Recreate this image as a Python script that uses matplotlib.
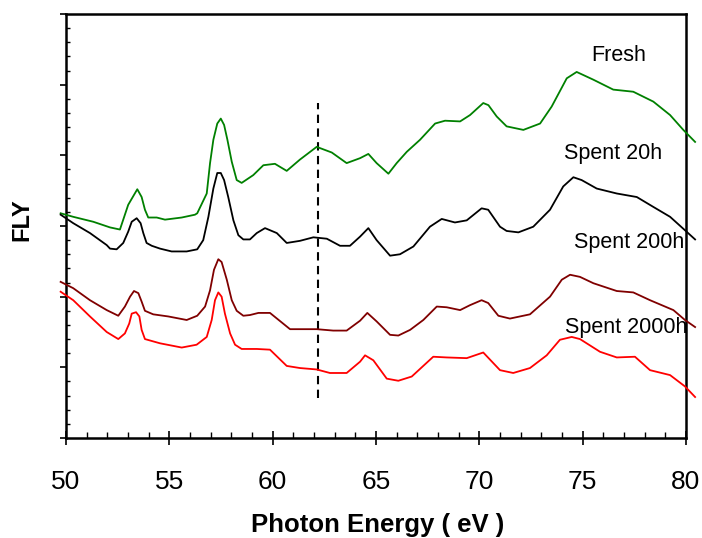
import matplotlib
matplotlib.use("Agg")
import matplotlib.pyplot as plt
from matplotlib.ticker import MultipleLocator

plt.rcParams['font.family'] = ['Liberation Sans', 'DejaVu Sans']

# ---- data (photon energy in eV, FLY intensity in arbitrary units) ----
fresh_x = [49.74, 50.35, 51.32, 52.13, 52.61, 53.01, 53.23, 53.45, 53.66, 53.82, 53.98, 54.39,
           54.79, 55.60, 56.24, 56.35, 56.81, 56.97, 57.13, 57.32, 57.49, 57.65, 57.81, 58.02,
           58.26, 58.50, 59.06, 59.55, 60.11, 60.68, 61.32, 62.13, 62.86, 63.58,
           64.23, 64.63, 65.03, 65.60, 66.00, 66.49, 67.13, 67.86, 68.34, 69.07, 69.55, 70.19,
           70.44, 70.84, 71.32, 72.13, 72.94, 73.50, 74.23, 74.71, 75.52, 76.48, 77.45, 78.42,
           79.23, 79.87, 80.44]
fresh_y = [3.18, 3.13, 3.06, 2.98, 2.95, 3.30, 3.41, 3.52, 3.41, 3.23, 3.12, 3.12,
           3.09, 3.12, 3.16, 3.18, 3.46, 3.89, 4.22, 4.45, 4.52, 4.43, 4.22, 3.91,
           3.65, 3.61, 3.72, 3.86, 3.88, 3.78, 3.94, 4.12, 4.04, 3.89,
           3.96, 4.02, 3.89, 3.74, 3.89, 4.05, 4.22, 4.45, 4.49, 4.48, 4.57, 4.74,
           4.71, 4.55, 4.41, 4.36, 4.45, 4.69, 5.09, 5.18, 5.07, 4.93, 4.90, 4.76,
           4.57, 4.36, 4.19]

spent20_x = [49.74, 50.35, 51.16, 51.97, 52.13, 52.45, 52.77, 53.01, 53.18, 53.42, 53.61, 53.74,
             53.90, 54.15, 54.55, 55.11, 55.84, 56.35, 56.64, 56.89, 57.13, 57.32, 57.49, 57.65,
             57.85, 58.10, 58.34, 58.58, 58.90, 59.23, 59.63, 60.20, 60.68, 61.32, 61.97,
             62.62, 63.26, 63.74, 64.23, 64.63, 65.03, 65.68, 66.16, 66.81, 67.61, 68.18, 68.82,
             69.39, 70.11, 70.43, 71.00, 71.32, 71.89, 72.61, 73.42, 74.06, 74.55, 74.95, 75.68,
             76.65, 77.62, 78.42, 79.23, 79.95, 80.44]
spent20_y = [3.16, 3.04, 2.90, 2.73, 2.68, 2.67, 2.76, 2.92, 3.06, 3.11, 3.04, 2.90,
             2.76, 2.72, 2.68, 2.64, 2.64, 2.67, 2.80, 3.13, 3.53, 3.75, 3.75, 3.65,
             3.41, 3.08, 2.87, 2.81, 2.81, 2.90, 2.97, 2.90, 2.76, 2.79, 2.84,
             2.82, 2.72, 2.72, 2.85, 2.97, 2.80, 2.58, 2.60, 2.71, 2.99, 3.10, 3.05,
             3.08, 3.25, 3.23, 2.99, 2.93, 2.91, 2.99, 3.23, 3.56, 3.69, 3.65, 3.53,
             3.46, 3.41, 3.27, 3.13, 2.94, 2.81]

spent200_x = [49.74, 50.35, 51.16, 51.97, 52.53, 52.85, 53.10, 53.29, 53.50, 53.66, 53.82, 54.22,
              54.95, 55.84, 56.35, 56.73, 56.97, 57.16, 57.37, 57.53, 57.78, 58.02, 58.26, 58.58,
              58.90, 59.31, 59.87, 60.84, 62.13, 62.93,
              63.58, 64.23, 64.58, 65.03, 65.68, 66.08, 66.65, 67.29, 67.94, 68.42, 69.07, 69.55,
              70.11, 70.43, 70.92, 71.48, 72.45, 73.42, 73.99, 74.39, 74.87, 75.52, 76.65, 77.45,
              78.26, 79.39, 79.95, 80.44]
spent200_y = [2.21, 2.12, 1.95, 1.81, 1.73, 1.86, 2.00, 2.08, 2.05, 1.93, 1.80, 1.75,
              1.72, 1.67, 1.73, 1.86, 2.09, 2.38, 2.53, 2.49, 2.24, 1.95, 1.80, 1.73,
              1.74, 1.77, 1.77, 1.54, 1.54, 1.52,
              1.52, 1.66, 1.77, 1.65, 1.46, 1.45, 1.53, 1.67, 1.86, 1.85, 1.81, 1.88,
              1.95, 1.91, 1.73, 1.69, 1.75, 2.00, 2.24, 2.31, 2.28, 2.19, 2.08, 2.06,
              1.95, 1.81, 1.67, 1.57]

spent2000_x = [49.74, 50.35, 51.16, 51.97, 52.53, 52.85, 53.06, 53.18, 53.39, 53.55, 53.66, 53.82,
               54.55, 55.60, 56.32, 56.81, 57.05, 57.21, 57.37, 57.53, 57.69, 57.94, 58.18, 58.50,
               59.23, 59.87, 60.68, 61.32,
               62.13, 62.77, 63.58, 64.23, 64.47, 64.87, 65.52, 66.08, 66.73, 67.77, 68.42, 69.39,
               70.19, 71.00, 71.64, 72.45, 73.26, 73.90, 74.47, 74.87, 75.84, 76.65, 77.53, 78.26,
               79.23, 79.95, 80.44]
spent2000_y = [2.07, 1.95, 1.72, 1.50, 1.40, 1.48, 1.62, 1.76, 1.78, 1.72, 1.53, 1.40,
               1.34, 1.28, 1.32, 1.43, 1.67, 1.95, 2.06, 2.00, 1.76, 1.48, 1.32, 1.26,
               1.26, 1.25, 1.02, 0.99,
               0.97, 0.92, 0.92, 1.08, 1.17, 1.10, 0.84, 0.81, 0.87, 1.15, 1.14, 1.13,
               1.21, 0.96, 0.92, 0.99, 1.17, 1.39, 1.43, 1.40, 1.22, 1.14, 1.15, 0.96,
               0.89, 0.73, 0.58]

series_labels = ["Fresh", "Spent 20h", "Spent 200h", "Spent 2000h"]
label_x = [76.76, 76.47, 77.24, 77.10]
label_y = [5.41, 4.02, 2.76, 1.57]
series_colors = ["#008000", "#000000", "#800000", "#FF0000"]

marker_energy = 62.17
marker_y = [0.57, 4.74]

x_ticks = [50, 55, 60, 65, 70, 75, 80]

# ---- figure ----
fig = plt.figure(figsize=(7.02, 5.38), dpi=100)
ax = fig.add_axes([66 / 702, 1 - 438 / 538, 620 / 702, 424 / 538])

all_x = [fresh_x, spent20_x, spent200_x, spent2000_x]
all_y = [fresh_y, spent20_y, spent200_y, spent2000_y]
for xs, ys, c in zip(all_x, all_y, series_colors):
    ax.plot(xs, ys, color=c, lw=1.3, clip_on=False, zorder=3, solid_joinstyle='round')

for t, tx, ty in zip(series_labels, label_x, label_y):
    ax.text(tx, ty, t, ha='center', va='center', fontsize=15.5, color='black', zorder=4)

ax.plot([marker_energy, marker_energy], marker_y, color='black', lw=1.5,
        linestyle=(0, (4, 2.6)), zorder=2)

ax.set_xlim(50, 80)
ax.set_ylim(0, 6)
ax.set_xticks(x_ticks)
ax.set_xticklabels([str(v) for v in x_ticks])
ax.xaxis.set_minor_locator(MultipleLocator(1))
ax.yaxis.set_major_locator(MultipleLocator(1))
ax.yaxis.set_minor_locator(MultipleLocator(0.2))
ax.set_yticklabels([])

ax.tick_params(axis='x', which='major', direction='inout', length=10, width=1.2,
               labelsize=19, pad=18)
ax.tick_params(axis='x', which='minor', direction='in', length=4, width=1.0)
ax.tick_params(axis='y', which='major', direction='out', length=4, width=1.2)
ax.tick_params(axis='y', which='minor', direction='in', length=3, width=1.0)

for s in ax.spines.values():
    s.set_linewidth(1.8)

ax.set_xlabel("Photon Energy ( eV )", fontsize=18.5, fontweight='bold')
ax.xaxis.set_label_coords(0.502, -0.177)
ax.set_ylabel("FLY", fontsize=17, fontweight='bold')
ax.yaxis.set_label_coords(-0.053, 0.514)

fig.savefig("out.png", dpi=100)
